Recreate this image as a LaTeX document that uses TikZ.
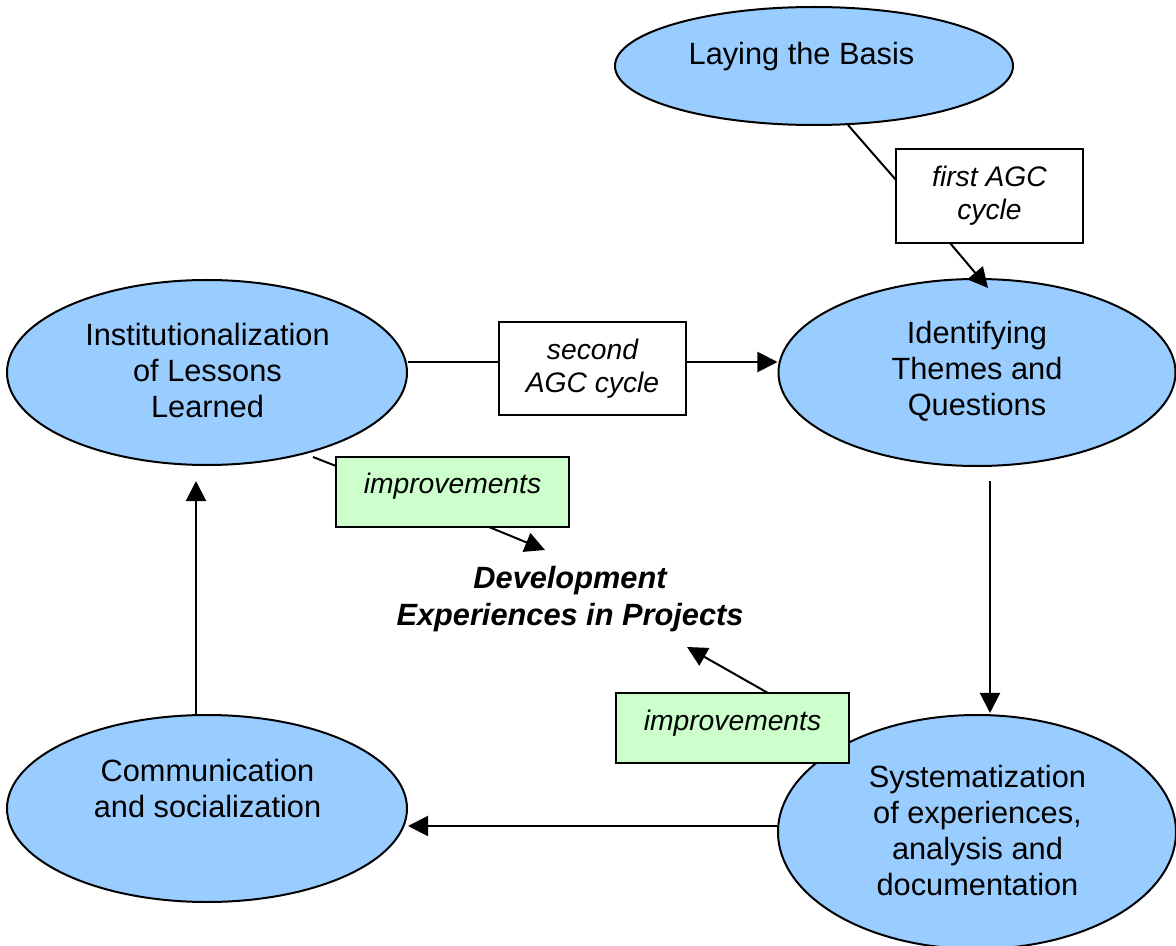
\documentclass[tikz,border=0pt]{standalone}
\usepackage{fontspec}
\setmainfont{Liberation Sans}
\usetikzlibrary{arrows.meta,calc,shapes.geometric}
\definecolor{ellblue}{RGB}{153,204,255}
\definecolor{boxgreen}{RGB}{204,255,204}
\begin{document}
\begin{tikzpicture}[x=0.4pt,y=-0.4pt,
  ell/.style={ellipse,draw=black,line width=0.8pt,fill=ellblue,inner sep=0pt},
  box/.style={rectangle,draw=black,line width=0.8pt,fill=white,inner sep=0pt},
  gbox/.style={box,fill=boxgreen},
  maintxt/.style={align=center,inner sep=0pt,font=\fontsize{12.3}{14.4}\selectfont},
  itxt/.style={align=center,inner sep=0pt,font=\fontsize{11.3}{13.2}\selectfont\itshape},
  devtxt/.style={align=center,inner sep=0pt,font=\fontsize{12.3}{14.8}\selectfont\bfseries\itshape},
  conn/.style={line width=0.8pt},
  arr/.style={conn,-{Triangle[length=8pt,width=8pt]}}
]
\useasboundingbox[fill=white] (0,0) rectangle (1176,946);

% ellipses
\node[ell,minimum width=159.2pt,minimum height=47.2pt] (basis) at (814,66) {};
\node[ell,minimum width=158.8pt,minimum height=74.8pt] (ident) at (977,372.5) {};
\node[ell,minimum width=160pt,minimum height=74pt] (inst) at (207,372.5) {};
\node[ell,minimum width=160pt,minimum height=74.8pt] (comm) at (207,808.5) {};
\node[ell,minimum width=159.2pt,minimum height=93.6pt] (syst) at (977,832) {};

% boxes
\node[box,minimum width=74.8pt,minimum height=37.6pt] (first) at (989.5,196) {};
\node[box,minimum width=74.8pt,minimum height=37.2pt] (second) at (592.5,368.5) {};
\node[gbox,minimum width=93.2pt,minimum height=28pt] (imp1) at (452.5,492) {};
\node[gbox,minimum width=93.2pt,minimum height=28pt] (imp2) at (732.5,728) {};

% texts
\node[maintxt] (basisT) at ($(basis)+(-12.5,-9)$) {Laying the Basis};
\node[maintxt] (identT) at ($(ident)+(0,-1.5)$) {Identifying\\Themes and\\Questions};
\node[maintxt] (instT) at ($(inst)+(0.5,-1.5)$) {Institutionalization\\of Lessons\\Learned};
\node[maintxt] (commT) at ($(comm)+(0.5,-20)$) {Communication\\and socialization};
\node[maintxt] (systT) at ($(syst)+(0.5,-1.5)$) {Systematization\\of experiences,\\analysis and\\documentation};
\node[itxt] (firstT) at ($(first)+(0,-0.5)$) {first AGC\\cycle};
\node[itxt] (secondT) at ($(second)+(0,0)$) {second\\AGC cycle};
\node[itxt] (imp1T) at ($(imp1)+(0,-6)$) {improvements};
\node[itxt] (imp2T) at ($(imp2)+(0,-5)$) {improvements};
\node[devtxt] (dev) at (570,599.5) {Development\\Experiences in Projects};

% connectors
\coordinate (ya) at (0,362);
\coordinate (yb) at (0,826);
\draw[conn] ($(basis)+(34,59)$) -- ($(first)+(-93.5,-16)$);
\draw[arr] ($(first)+(-39.5,47)$) -- ($(ident)+(11,-84.5)$);
\draw[conn] (inst.east |- ya) -- (second.west |- ya);
\draw[arr] (second.east |- ya) -- (ident.west |- ya);
\draw[arr] ($(ident.south)+(13,14)$) -- ($(syst.north)+(13,-1)$);
\draw[arr] (syst.west |- yb) -- (comm.east |- yb);
\draw[arr] ($(comm.north)+(-11,0)$) -- ($(inst.south)+(-11,15)$);
\draw[conn] ($(inst)+(106,84.5)$) -- ($(imp1)+(-116.5,-26)$);
\draw[arr] ($(imp1)+(36.5,35)$) -- ($(dev)+(-25,-49.5)$);
\draw[arr] ($(imp2)+(35.5,-35)$) -- ($(dev)+(117,47.5)$);
\end{tikzpicture}
\end{document}
